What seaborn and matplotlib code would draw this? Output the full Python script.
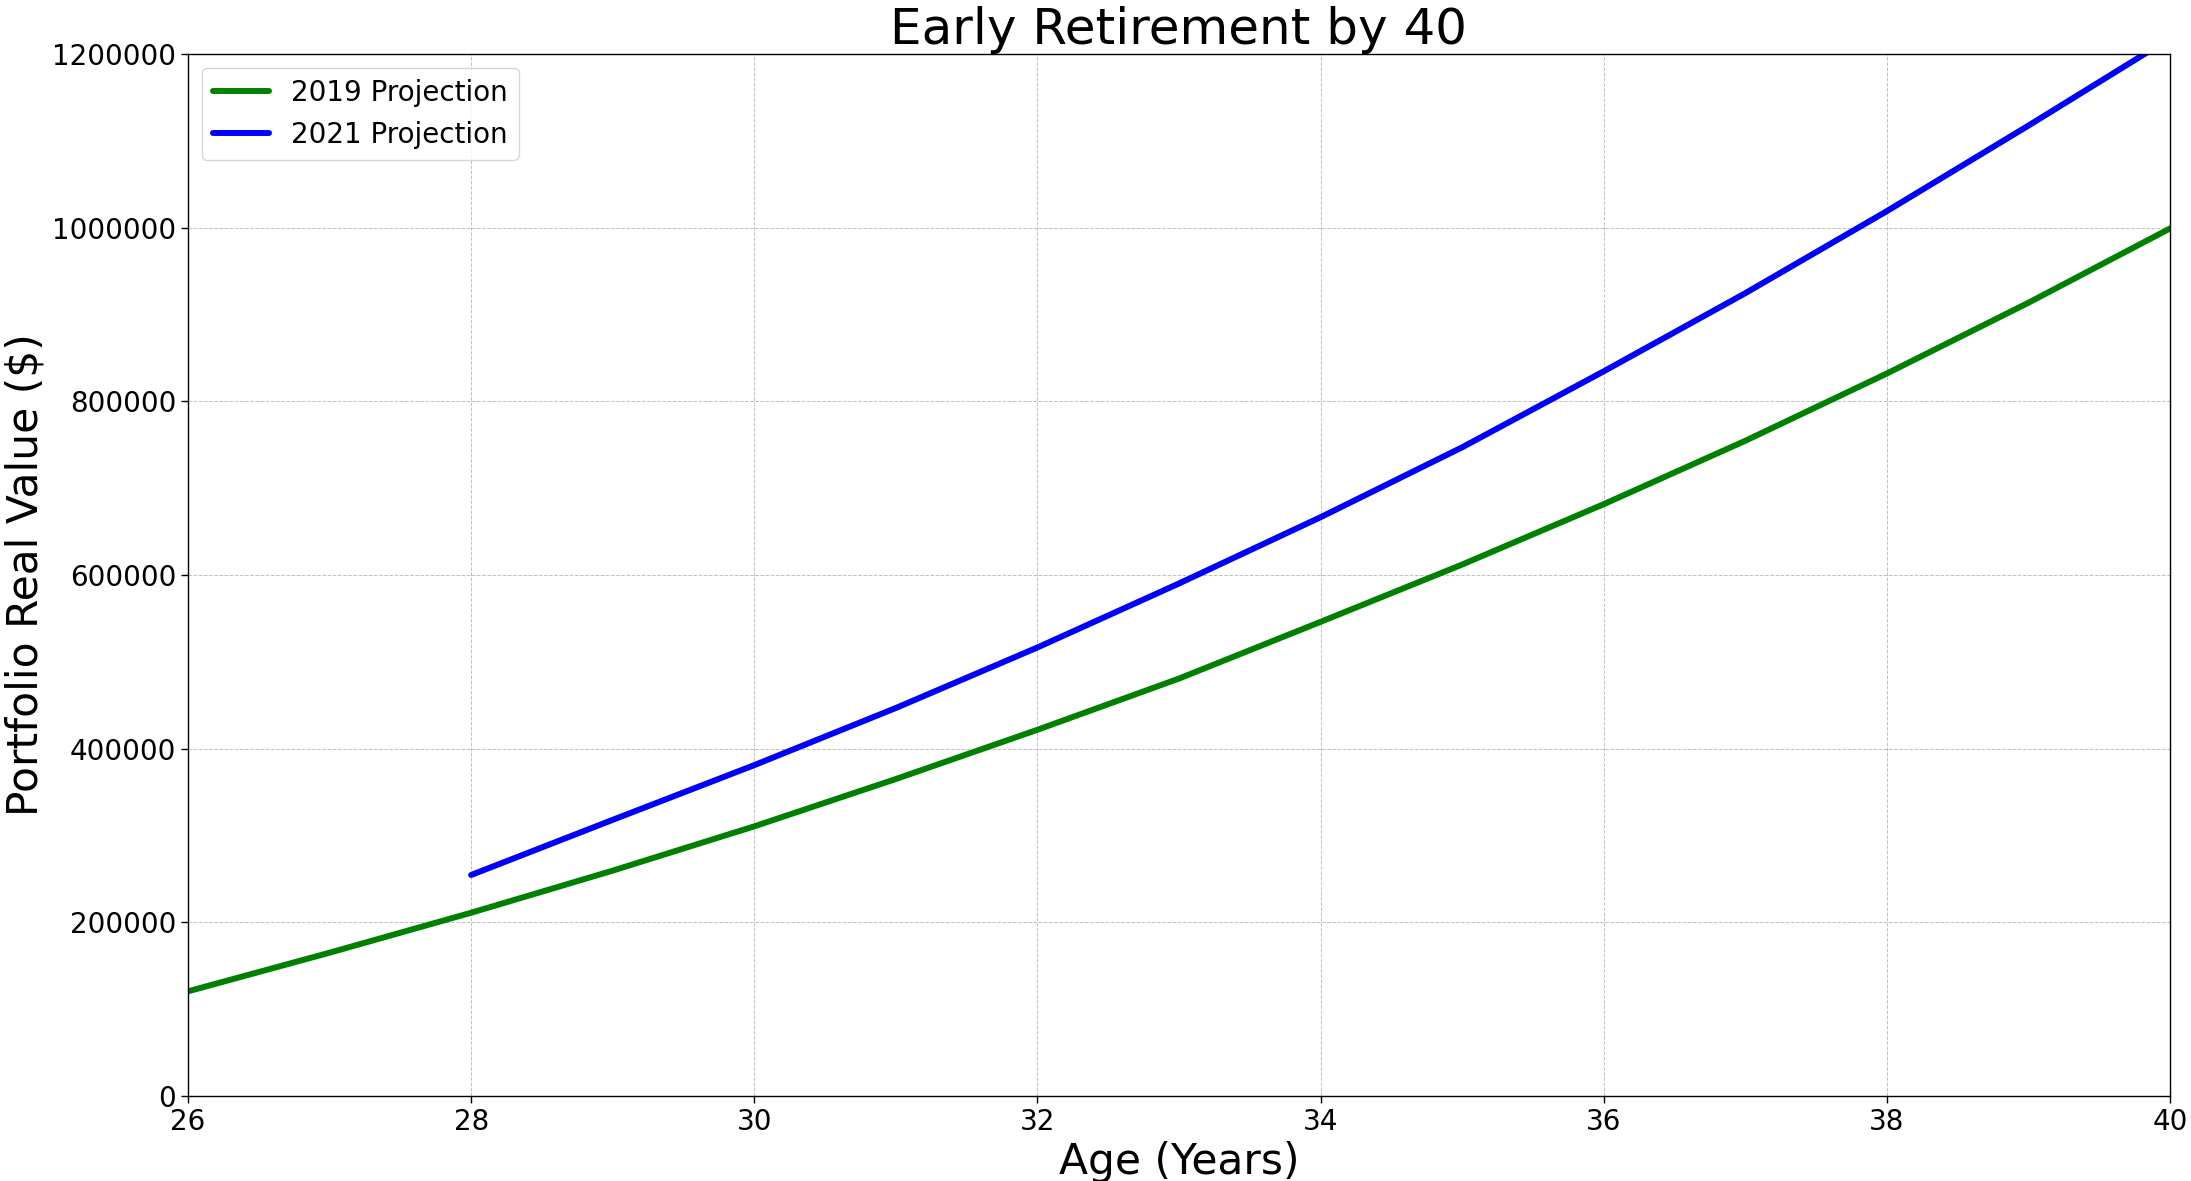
import matplotlib
matplotlib.use('Agg')
import matplotlib.pyplot as plt
import seaborn as sns
import pandas as pd

# valores (idade x valor real da carteira)
ages_2019 = [26, 27, 28, 29, 30, 31, 32, 33, 34, 35, 36, 37, 38, 39, 40]
values_2019 = [120500, 165000, 211000, 259500, 310500, 365000, 421700, 480700,
               546000, 612000, 681500, 754500, 832000, 913500, 999000]

ages_2021 = [28, 29, 30, 31, 32, 33, 34, 35, 36, 37, 38, 39, 40]
values_2021 = [254500, 318000, 381000, 446800, 516500, 590200, 666500, 747000,
               834500, 924500, 1019000, 1117500, 1218000]

df_2019 = pd.DataFrame({'age': ages_2019, 'value': values_2019})
df_2021 = pd.DataFrame({'age': ages_2021, 'value': values_2021})

sns.set_style('white')
plt.rcParams['font.family'] = ['DejaVu Sans']
plt.rcParams['text.color'] = 'black'
plt.rcParams['axes.labelcolor'] = 'black'
plt.rcParams['xtick.color'] = 'black'
plt.rcParams['ytick.color'] = 'black'

fig = plt.figure(figsize=(21.91, 11.81), dpi=100)
ax = fig.add_axes([0.0858, 0.072, 0.9046, 0.8823])

sns.lineplot(data=df_2019, x='age', y='value', color='green', linewidth=4.3,
             label='2019 Projection', ax=ax)
sns.lineplot(data=df_2021, x='age', y='value', color='blue', linewidth=4.3,
             label='2021 Projection', ax=ax)

ax.set_xlim(26, 40)
ax.set_ylim(0, 1200000)
ax.set_xticks(range(26, 41, 2))
ax.ticklabel_format(style='plain', axis='y')
ax.tick_params(axis='both', labelsize=20, length=5, width=1, direction='out',
               bottom=True, left=True, colors='black')
for s in ax.spines.values():
    s.set_color('black')
    s.set_linewidth(1)

ax.grid(True, linestyle='--', linewidth=0.7, color='#c0c0c0')

ax.set_title('Early Retirement by 40', fontsize=36, pad=7, color='black')
ax.set_xlabel('Age (Years)', fontsize=30.5, color='black')
ax.set_ylabel('Portfolio Real Value ($)', fontsize=30.5, color='black')
ax.legend(loc='upper left', fontsize=20)

plt.savefig('out.png', dpi=100)
plt.close()
